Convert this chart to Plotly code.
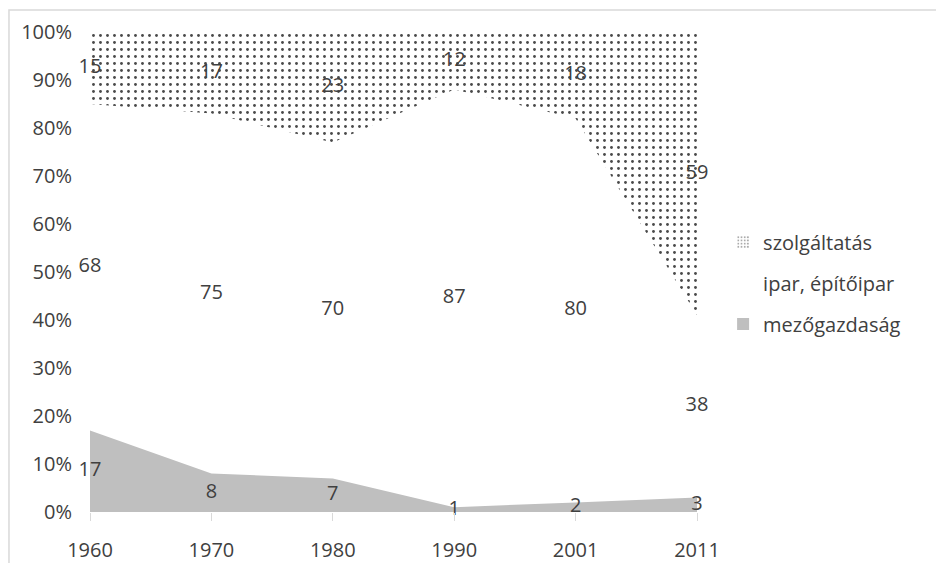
import plotly.graph_objects as go

years = ["1960", "1970", "1980", "1990", "2001", "2011"]
mezogazdasag = [17, 8, 7, 1, 2, 3]
ipar = [68, 75, 70, 87, 80, 38]
szolgaltatas = [15, 17, 23, 12, 18, 59]
series_names = ["mezőgazdaság", "ipar, építőipar", "szolgáltatás"]
y_ticks = [0, 10, 20, 30, 40, 50, 60, 70, 80, 90, 100]

FONT = "Open Sans"
TXT = "#404040"
PATTERN = dict(shape=".", size=7, solidity=0.13, fgcolor="#4a4a4a",
               bgcolor="white", fillmode="replace")

fig = go.Figure()
fig.add_trace(go.Scatter(
    x=years, y=mezogazdasag, name=series_names[0], stackgroup="one",
    mode="none", fillcolor="#BFBFBF", showlegend=False, hoverinfo="skip"))
fig.add_trace(go.Scatter(
    x=years, y=ipar, name=series_names[1], stackgroup="one",
    mode="none", fillcolor="rgba(255,255,255,0)", showlegend=False,
    hoverinfo="skip"))
fig.add_trace(go.Scatter(
    x=years, y=szolgaltatas, name=series_names[2], stackgroup="one",
    mode="none", fillcolor="white", showlegend=False, fillpattern=PATTERN,
    hoverinfo="skip"))

# legend entries (square swatches)
fig.add_trace(go.Bar(x=[None], y=[None], name=series_names[2], legendrank=1,
                     legendgroup="s",
                     marker=dict(color="white", line=dict(width=0),
                                 pattern=dict(shape=".", size=4, solidity=0.3,
                                              fgcolor="#555555", bgcolor="white"))))
fig.add_trace(go.Bar(x=[None], y=[None], name=series_names[1], legendrank=2,
                     legendgroup="i",
                     marker=dict(color="white", line=dict(width=0))))
fig.add_trace(go.Bar(x=[None], y=[None], name=series_names[0], legendrank=3,
                     legendgroup="m",
                     marker=dict(color="#BFBFBF", line=dict(width=0))))

# data labels at the middle of each band
base = [0] * len(years)
for vals in (mezogazdasag, ipar, szolgaltatas):
    mids = [b + v / 2 for b, v in zip(base, vals)]
    fig.add_trace(go.Scatter(
        x=years, y=mids, mode="text", text=[str(v) for v in vals],
        textposition="middle center", showlegend=False, hoverinfo="skip",
        textfont=dict(family=FONT, size=20, color=TXT), cliponaxis=False))
    base = [b + v for b, v in zip(base, vals)]

fig.update_layout(
    width=936, height=563,
    margin=dict(l=90, r=239, t=32, b=51, autoexpand=False),
    paper_bgcolor="white", plot_bgcolor="white",
    font=dict(family=FONT, color=TXT),
    showlegend=True,
    legend=dict(x=1.043, y=0.477, xanchor="left", yanchor="middle",
                traceorder="grouped", tracegroupgap=12,
                font=dict(family=FONT, size=20, color=TXT),
                itemwidth=30),
    xaxis=dict(type="category", range=[0, 5], showgrid=False, zeroline=False,
               showline=False, ticks="outside", ticklen=8, tickcolor="#D9D9D9",
               automargin=False, ticklabelstandoff=12,
               tickfont=dict(family=FONT, size=20, color=TXT)),
    yaxis=dict(range=[0, 100], tickvals=y_ticks, automargin=False,
               ticktext=[f"{t}%" for t in y_ticks], showgrid=False,
               zeroline=False, showline=False, ticks="",
               ticklabelstandoff=17,
               tickfont=dict(family=FONT, size=20, color=TXT)),
    shapes=[dict(type="rect", xref="paper", yref="paper",
                 x0=-0.1335, x1=1.5, y0=-0.3, y1=1.046,
                 line=dict(color="#D9D9D9", width=1.5),
                 fillcolor="rgba(0,0,0,0)", layer="below")],
)

fig.write_html("out.html", config={"displayModeBar": False},
               post_script="document.body.style.margin='0px';")
